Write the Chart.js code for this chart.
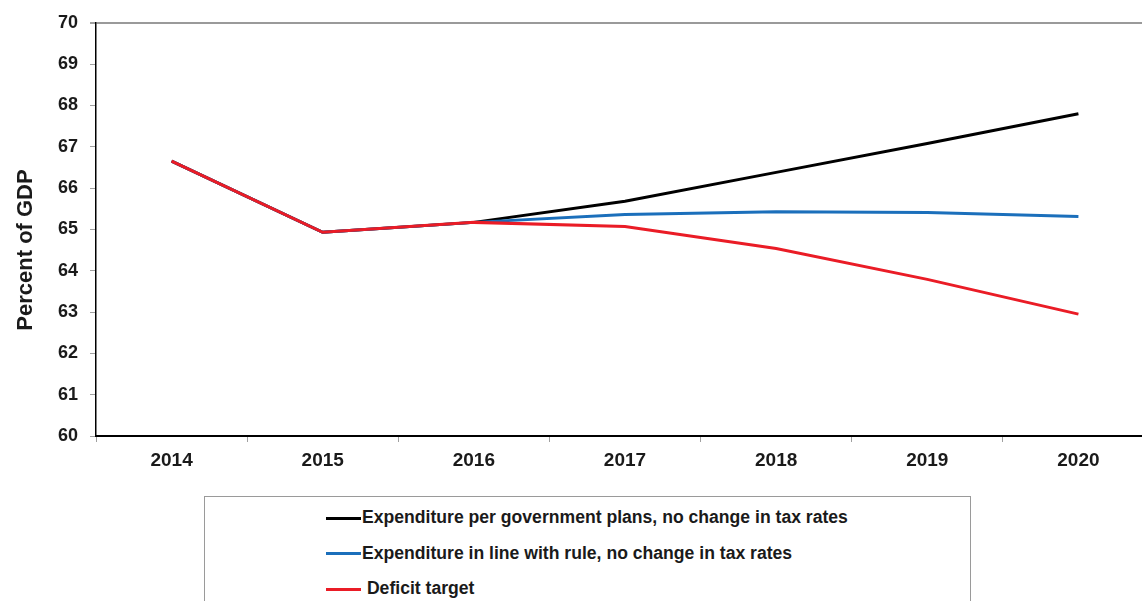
<!DOCTYPE html>
<html>
<head>
<meta charset="utf-8">
<script src="https://cdn.jsdelivr.net/npm/chart.js@4.4.1/dist/chart.umd.min.js"></script>
<style>
  html, body { margin: 0; padding: 0; background: #fff; overflow: hidden; }
  #wrap { position: relative; width: 1142px; height: 601px; overflow: hidden; }
  #chart { position: absolute; left: 0; top: 0; }
  #legend {
    position: absolute; left: 204px; top: 496px; width: 767px; height: 130px;
    border: 1px solid #9a9a9a; box-sizing: border-box;
    font-family: "Liberation Sans", Arial, sans-serif; font-weight: bold; font-size: 17.6px; color: #1a1a1a;
  }
  .item { position: absolute; left: 121px; height: 20px; line-height: 20px; white-space: nowrap; }
  .item span.swatch { display: inline-block; width: 35px; height: 3px; vertical-align: middle; margin-right: 1px; }
</style>
</head>
<body>
<div id="wrap">
  <canvas id="chart" width="1160" height="480"></canvas>
  <div id="legend"></div>
</div>
<script>
let years = ['2014', '2015', '2016', '2017', '2018', '2019', '2020']

let govPlans = [66.65, 64.93, 65.17, 65.68, 66.38, 67.08, 67.80]
let ruleExp = [66.65, 64.93, 65.17, 65.36, 65.43, 65.41, 65.31]
let deficitTarget = [66.65, 64.93, 65.17, 65.07, 64.54, 63.79, 62.95]

let seriesNames = [
    'Expenditure per government plans, no change in tax rates',
    'Expenditure in line with rule, no change in tax rates',
    ' Deficit target'
]

let yTitle = 'Percent of GDP'

let family = '"Liberation Sans", Arial, sans-serif'
let textColor = '#1a1a1a'

// y axis title, drawn by hand so it can sit a bit below the axis middle
let yTitlePlugin = {
    id: 'yTitle',
    afterDraw(c) {
        let g = c.ctx
        g.save()
        g.translate(32, 250)
        g.rotate(-Math.PI / 2)
        g.font = 'bold 22px ' + family
        g.fillStyle = textColor
        g.textAlign = 'center'
        g.textBaseline = 'alphabetic'
        g.fillText(yTitle, 0, 0)
        g.restore()
    }
}

let ctx = document.getElementById('chart').getContext('2d')

let chart = new Chart(ctx, {
    type: 'line',
    data: {
        labels: years,
        datasets: [
            { label: seriesNames[0], data: govPlans, borderColor: '#000000', order: 3 },
            { label: seriesNames[1], data: ruleExp, borderColor: '#1b6fbb', order: 2 },
            { label: seriesNames[2], data: deficitTarget, borderColor: '#ea1c26', order: 1 }
        ]
    },
    options: {
        responsive: false,
        animation: false,
        layout: { padding: { top: 22, right: 6, left: 0, bottom: 0 } },
        elements: {
            line: { borderWidth: 3, tension: 0 },
            point: { radius: 0 }
        },
        scales: {
            x: {
                offset: true,
                afterFit: s => { s.height = 44 },
                grid: { offset: true, drawOnChartArea: false, tickLength: 6, color: '#a0a0a0' },
                border: { color: '#000', width: 2 },
                ticks: { font: { family: family, weight: 'bold', size: 19 }, color: textColor, padding: 7, maxRotation: 0 }
            },
            y: {
                min: 60,
                max: 70,
                afterFit: s => { s.width = 96 },
                ticks: { stepSize: 1, font: { family: family, weight: 'bold', size: 18 }, color: textColor, padding: 12 },
                grid: {
                    tickLength: 6,
                    tickColor: '#a0a0a0',
                    color: c => c.tick && c.tick.value === 70 ? '#9a9a9a' : 'transparent',
                    lineWidth: c => c.tick && c.tick.value === 70 ? 2 : 1
                },
                border: { color: '#000', width: 1.5 }
            }
        },
        plugins: {
            legend: { display: false },
            tooltip: { enabled: false }
        }
    },
    plugins: [yTitlePlugin]
})

// legend box below the plot, one row per series
let legendBox = document.getElementById('legend')
chart.data.datasets.forEach((ds, i) => {
    let row = document.createElement('div')
    row.className = 'item'
    row.style.top = (10 + i * 35.5) + 'px'
    let sw = document.createElement('span')
    sw.className = 'swatch'
    sw.style.background = ds.borderColor
    row.appendChild(sw)
    row.appendChild(document.createTextNode(ds.label))
    legendBox.appendChild(row)
})
</script>
</body>
</html>
